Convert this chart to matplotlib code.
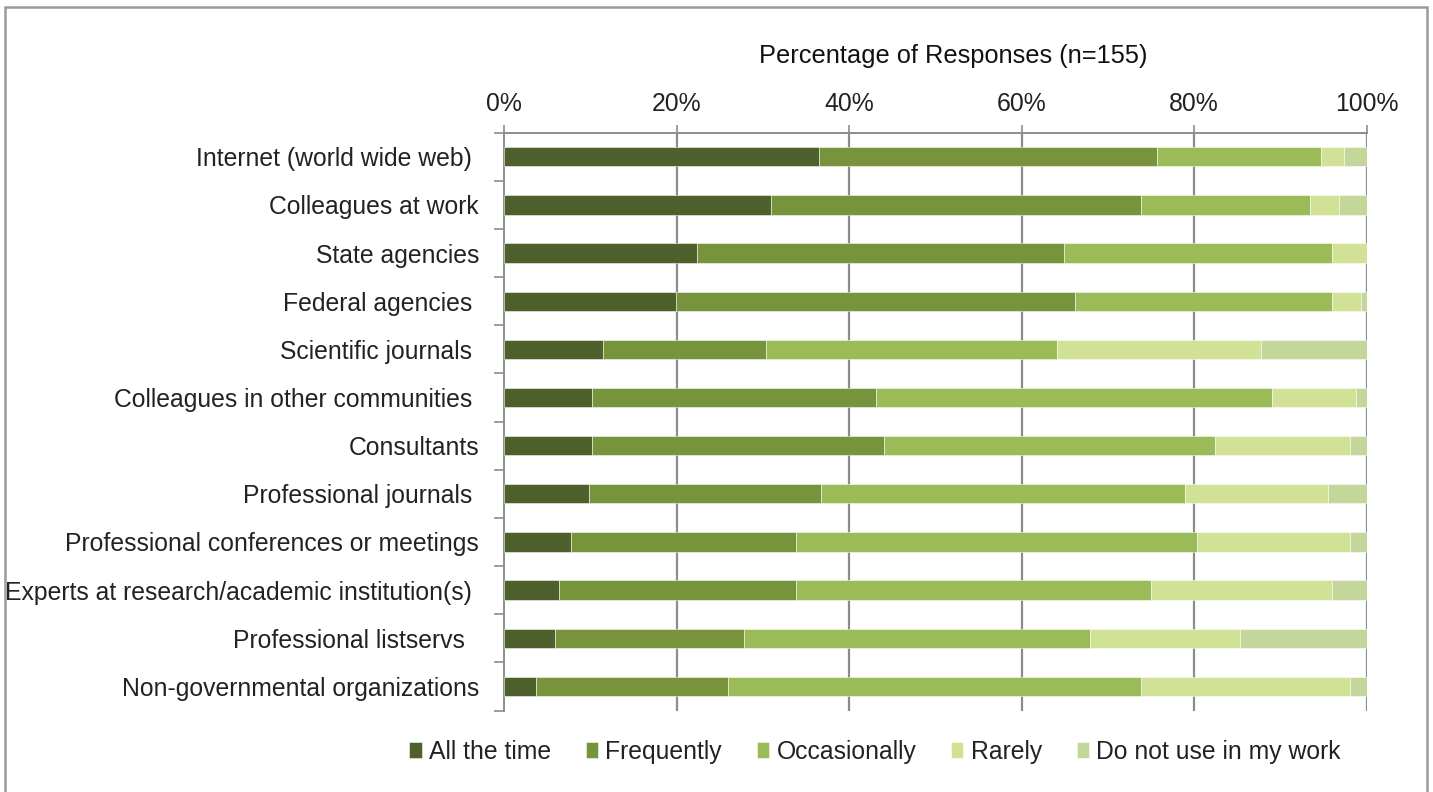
import matplotlib
matplotlib.use("Agg")
import matplotlib.pyplot as plt
from matplotlib.patches import Rectangle
import numpy as np

plt.rcParams['font.family'] = ['Liberation Sans', 'DejaVu Sans']

sources = [
    "Internet (world wide web) ",
    "Colleagues at work",
    "State agencies",
    "Federal agencies ",
    "Scientific journals ",
    "Colleagues in other communities ",
    "Consultants",
    "Professional journals ",
    "Professional conferences or meetings",
    "Experts at research/academic institution(s) ",
    "Professional listservs  ",
    "Non-governmental organizations",
]

all_the_time = [36.5, 31.0, 22.4, 19.9, 11.5, 10.2, 10.2, 9.8, 7.8, 6.4, 5.9, 3.7]
frequently   = [39.2, 42.9, 42.5, 46.3, 18.9, 32.9, 33.8, 26.9, 26.0, 27.4, 21.9, 22.3]
occasionally = [19.0, 19.5, 31.1, 29.8, 33.7, 45.9, 38.4, 42.2, 46.5, 41.2, 40.1, 47.8]
rarely       = [2.7, 3.4, 4.0, 3.4, 23.7, 9.8, 15.7, 16.6, 17.8, 21.0, 17.4, 24.3]
do_not_use   = [2.6, 3.2, 0.0, 0.6, 12.2, 1.2, 1.9, 4.5, 1.9, 4.0, 14.7, 1.9]

series_names = ["All the time", "Frequently", "Occasionally", "Rarely", "Do not use in my work"]
series_colors = ["#4e612c", "#77933c", "#9bbb59", "#d1e297", "#c4d79b"]

x_ticks = [0, 20, 40, 60, 80, 100]
x_title = "Percentage of Responses (n=155)"

FS = 17.8
W, H = 1433, 792
fig = plt.figure(figsize=(W / 100, H / 100), dpi=100)
ax = fig.add_axes([504 / W, 1 - 710.5 / H, (1366.5 - 504) / W, (710.5 - 132.7) / H])

y = np.arange(len(sources))
left = np.zeros(len(sources))
for name, vals, col in zip(series_names,
                           [all_the_time, frequently, occasionally, rarely, do_not_use],
                           series_colors):
    vals = np.array(vals)
    ax.barh(y, vals, left=left, height=0.4, color=col, label=name,
            edgecolor=(1, 1, 1, 0.6), linewidth=0.6, zorder=3)
    left += vals

ax.set_xlim(0, 100)
ax.set_ylim(len(sources) - 0.5, -0.5)

grid_col = "#8c8c8c"
for xv in x_ticks[1:]:
    ax.axvline(xv, color=grid_col, lw=1.6, zorder=1)

ax.xaxis.tick_top()
ax.xaxis.set_label_position("top")
ax.set_xticks(x_ticks)
ax.set_xticklabels([f"{v}%" for v in x_ticks])
ax.tick_params(axis="x", which="major", length=6, width=1.2, color=grid_col,
               labelsize=FS, labelcolor="#222222", pad=6, direction="out")
ax.set_xlabel(x_title, fontsize=18.3, color="#111111")
ax.xaxis.set_label_coords(0.521, 1.12)

ax.set_yticks(y)
ax.set_yticklabels(sources)
ax.tick_params(axis="y", which="major", length=0, labelsize=FS,
               labelcolor="#222222", pad=18)
ax.set_yticks(np.arange(len(sources) + 1) - 0.5, minor=True)
ax.tick_params(axis="y", which="minor", length=7, width=1.2, color=grid_col,
               direction="out")

for side in ["right", "bottom"]:
    ax.spines[side].set_visible(False)
for side in ["left", "top"]:
    ax.spines[side].set_color(grid_col)
    ax.spines[side].set_linewidth(1.4)

leg = fig.legend(*ax.get_legend_handles_labels(), loc="center",
                 bbox_to_anchor=(875 / W, 1 - 752 / H), ncol=5, frameon=False,
                 fontsize=FS, handlelength=0.5, handleheight=0.6,
                 handletextpad=0.3, columnspacing=1.4, labelcolor="#222222")

fig.patches.append(Rectangle((5 / W, -0.05), (1427 - 5) / W, 1.05 - 7 / H,
                             transform=fig.transFigure, fill=False,
                             edgecolor="#9a9a9a", linewidth=1.8))

fig.savefig("out.png", dpi=100, facecolor="white")
